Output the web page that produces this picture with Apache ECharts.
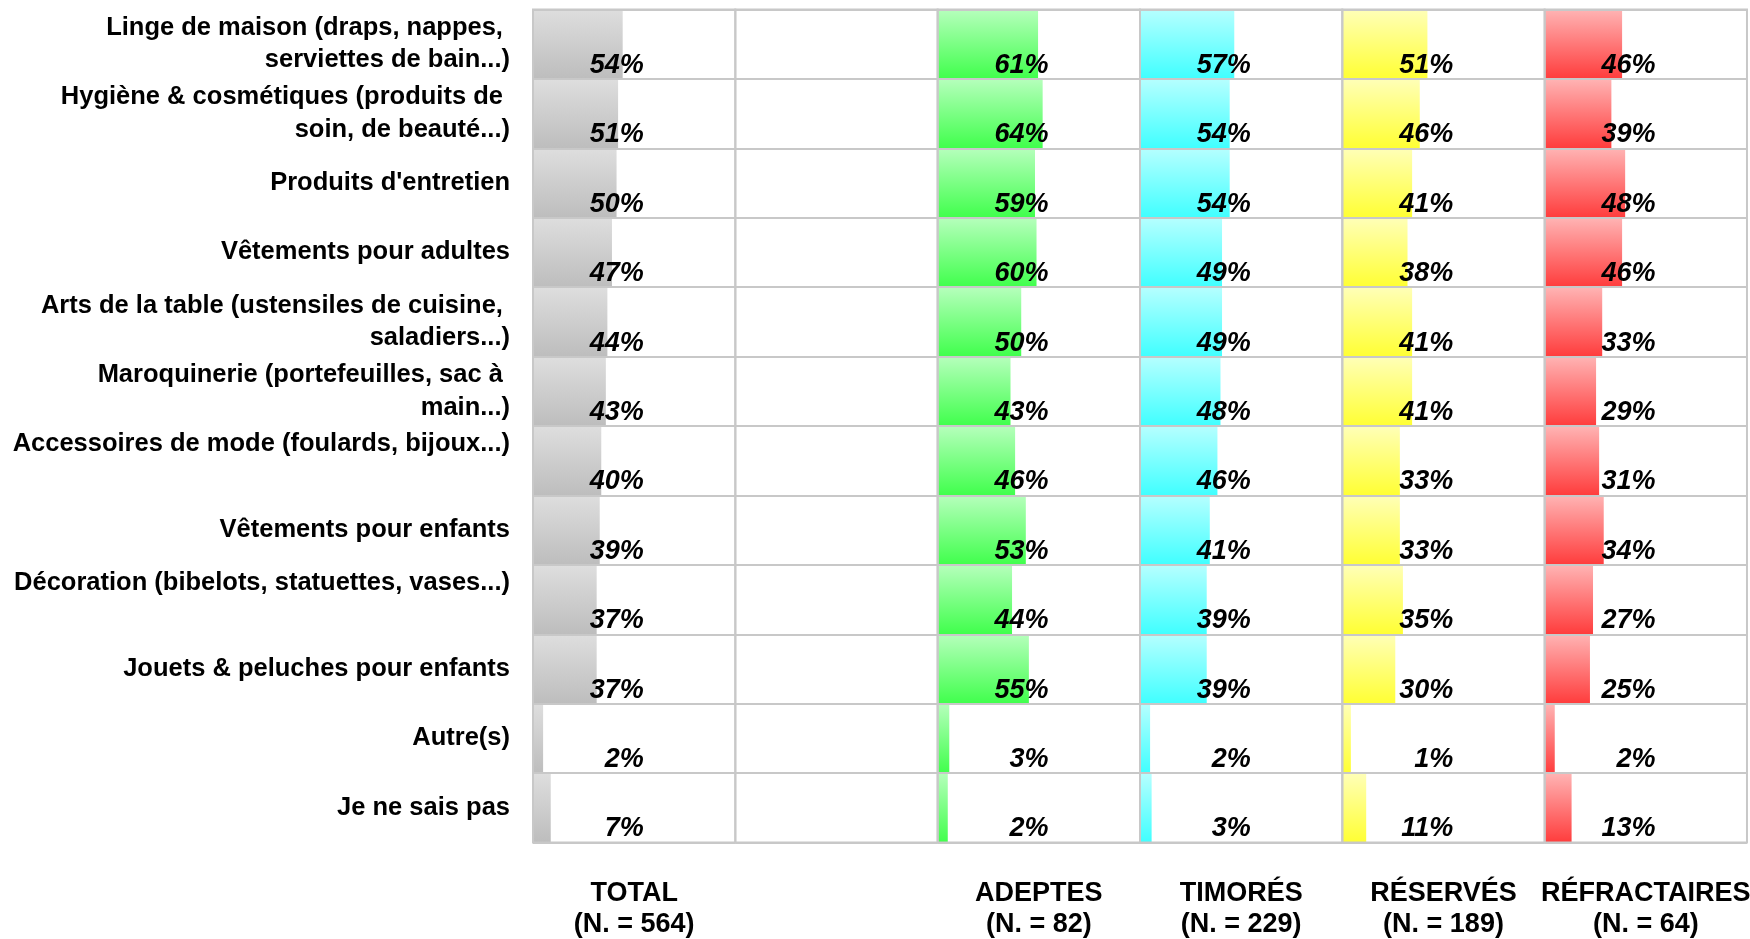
<!DOCTYPE html>
<html>
<head>
<meta charset="utf-8">
<script src="https://cdn.jsdelivr.net/npm/echarts@6/dist/echarts.min.js"></script>
<style>
html,body{margin:0;padding:0;background:#fff;}
#chart{width:1750px;height:939px;}
</style>
</head>
<body>
<div id="chart"></div>
<script>
const categories = [
  "Linge de maison (draps, nappes, \nserviettes de bain...)",
  "Hygiène & cosmétiques (produits de \nsoin, de beauté...)",
  "Produits d'entretien",
  "Vêtements pour adultes",
  "Arts de la table (ustensiles de cuisine, \nsaladiers...)",
  "Maroquinerie (portefeuilles, sac à \nmain...)",
  "Accessoires de mode (foulards, bijoux...)\n ",
  "Vêtements pour enfants",
  "Décoration (bibelots, statuettes, vases...)\n ",
  "Jouets & peluches pour enfants",
  "Autre(s)",
  "Je ne sais pas"
];
const panelTitles = [
  "TOTAL\n(N. = 564)",
  "",
  "ADEPTES\n(N. = 82)",
  "TIMORÉS\n(N. = 229)",
  "RÉSERVÉS\n(N. = 189)",
  "RÉFRACTAIRES\n(N. = 64)"
];
const totalValues       = [54, 51, 50, 47, 44, 43, 40, 39, 37, 37, 2, 7];
const adeptesValues     = [61, 64, 59, 60, 50, 43, 46, 53, 44, 55, 3, 2];
const timoresValues     = [57, 54, 54, 49, 49, 48, 46, 41, 39, 39, 2, 3];
const reservesValues    = [51, 46, 41, 38, 41, 41, 33, 33, 35, 30, 1, 11];
const refractairesValues= [46, 39, 48, 46, 33, 29, 31, 34, 27, 25, 2, 13];

const panelSeries = [totalValues, null, adeptesValues, timoresValues, reservesValues, refractairesValues];
const panelColors = [
  ['#dedede', '#bdbdbd'],
  null,
  ['#b6ffbc', '#40ff4c'],
  ['#b6ffff', '#40ffff'],
  ['#ffffb8', '#ffff33'],
  ['#ffb4b4', '#ff3c3c']
];

const FONT = "'Liberation Sans', Arial, sans-serif";
const LINE = '#c8c8c8';
const GL = 533, GT = 9.5, PW = 202.33, GH = 833;

const grids = [], xAxes = [], yAxes = [], series = [];
for (let i = 0; i < 6; i++) {
  grids.push({left: GL + i * PW, top: GT, width: PW, height: GH, show: true,
    outerBoundsMode: 'none', containLabel: false,
    borderColor: LINE, borderWidth: 2, backgroundColor: 'transparent', z: 5});
  xAxes.push({type: 'value', gridIndex: i, min: -4.6, max: 127.6, z: 5,
    axisLabel: {show: false}, axisTick: {show: false}, axisLine: {show: false},
    splitLine: {show: false},
    name: panelTitles[i], nameLocation: 'middle', nameGap: 36,
    nameTextStyle: {fontFamily: FONT, fontWeight: 'bold', fontSize: 27, color: '#000', lineHeight: 31}});
  yAxes.push({type: 'category', gridIndex: i, data: categories, inverse: true, z: 5,
    axisTick: {show: false}, axisLine: {show: false},
    splitLine: {show: true, lineStyle: {color: LINE, width: 2}},
    axisLabel: {show: i === 0, margin: 23, fontFamily: FONT, fontWeight: 'bold', fontSize: 25.5,
      color: '#000', lineHeight: 32.5, align: 'right', padding: [0, 0, 4, 0]}});
  const vals = panelSeries[i];
  const cols = panelColors[i];
  series.push({
    type: 'custom', xAxisIndex: i, yAxisIndex: i, z: 2,
    encode: {x: 0, y: 1},
    data: vals ? vals.map((v, k) => [v, k]) : [],
    renderItem: function (params, api) {
      const v = api.value(0), c = api.value(1);
      const end = api.coord([v, c]);
      const band = api.size([0, 1])[1];
      const cs = params.coordSys;
      const x0 = cs.x;
      const top = end[1] - band / 2;
      return {type: 'group', children: [
        {type: 'rect', shape: {x: x0, y: top, width: end[0] - x0, height: band},
          style: {fill: new echarts.graphic.LinearGradient(0, 0, 0, 1,
            [{offset: 0, color: cols[0]}, {offset: 1, color: cols[1]}])}},
        {type: 'text', z2: 10, style: {text: v + '%', x: x0 + cs.width * 0.548, y: top + band * 0.805,
          align: 'right', verticalAlign: 'middle', fill: '#000',
          font: 'italic bold 27px ' + FONT}}
      ]};
    }
  });
}

const chart = echarts.init(document.getElementById('chart'), null, {renderer: 'canvas'});
chart.setOption({
  animation: false,
  backgroundColor: '#fff',
  grid: grids, xAxis: xAxes, yAxis: yAxes, series: series
});
</script>
</body>
</html>
